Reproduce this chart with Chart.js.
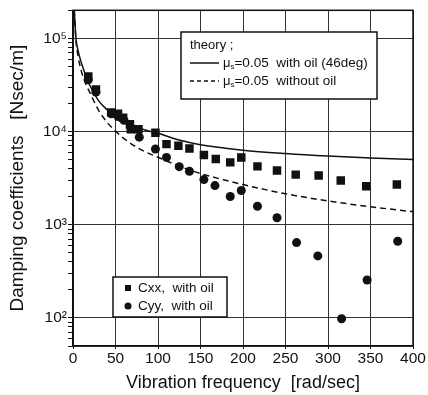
<!DOCTYPE html>
<html>
<head>
<meta charset="utf-8">
<script src="https://cdn.jsdelivr.net/npm/chart.js@4.4.1/dist/chart.umd.min.js"></script>
<style>
  html, body { margin: 0; padding: 0; background: #fff; }
  #wrap { width: 428px; height: 395px; }
</style>
</head>
<body>
<div id="wrap"><canvas id="c"></canvas></div>
<script>
const cxxFreq = [18, 27, 45, 53, 59, 67, 68, 77, 97, 110, 124, 137, 154, 168, 185, 198, 217, 240, 262, 289, 315, 345, 381];
const cxxVal  = [39000, 28300, 16000, 15500, 14100, 12000, 10600, 10600, 9700, 7330, 7040, 6590, 5600, 5070, 4670, 5280, 4230, 3810, 3450, 3370, 2980, 2590, 2700];

const cyyFreq = [18, 27, 45, 53, 60, 68, 78, 97, 110, 125, 137, 154, 167, 185, 198, 217, 240, 263, 288, 316, 346, 382];
const cyyVal  = [36000, 26500, 15500, 14500, 13200, 11000, 8700, 6490, 5280, 4200, 3750, 3050, 2630, 2010, 2330, 1580, 1190, 644, 463, 98, 255, 665];

// theory curves
const theoryFreq = [1.5, 3.5, 6, 10, 15, 20, 30, 40, 50, 60, 80, 100, 125, 150, 200, 250, 300, 350, 400];
const withOilVal = [200000, 100000, 74000, 54000, 40000, 31000, 21500, 17200, 14600, 12900, 10700, 9600, 8100, 7200, 6300, 5800, 5450, 5200, 5000];
const noOilVal   = [200000, 94000, 64000, 44000, 32500, 26000, 17000, 12600, 10100, 8400, 6400, 5300, 4250, 3550, 2700, 2150, 1800, 1560, 1380];

const xTicks = [0, 50, 100, 150, 200, 250, 300, 350, 400];
const yTickValues = [100, 1000, 10000, 100000];
const yTickLabels = ['10²', '10³', '10⁴', '10⁵'];

const FONT = '"Liberation Sans", Arial, sans-serif';
const INK = '#111';

const pts = (xs, ys) => xs.map((x, i) => ({ x: x, y: ys[i] }));

// every minor value between 50 and 200000 on the log axis
const yAll = [];
for (let d = 10; d <= 100000; d *= 10) {
  for (let m = 1; m <= 9; m++) {
    const v = m * d;
    if (v >= 50 && v <= 200000) yAll.push(v);
  }
}
yAll.push(200000);

// frame + in-plot legends
const decor = {
  id: 'decor',
  afterDraw(chart) {
    const { ctx, chartArea: a } = chart;
    ctx.save();
    ctx.strokeStyle = INK;
    ctx.lineWidth = 1.5;
    ctx.strokeRect(a.left, a.top, a.right - a.left, a.bottom - a.top);

    // theory legend
    ctx.fillStyle = '#fff';
    ctx.fillRect(181, 32, 196, 67);
    ctx.strokeRect(181, 32, 196, 67);
    ctx.fillStyle = INK;
    ctx.textBaseline = 'middle';
    ctx.font = '13px ' + FONT;
    ctx.fillText('theory ;', 190, 45);

    ctx.lineWidth = 1.5;
    ctx.setLineDash([]);
    ctx.beginPath(); ctx.moveTo(190, 63); ctx.lineTo(219, 63); ctx.stroke();
    ctx.setLineDash([4, 3]);
    ctx.beginPath(); ctx.moveTo(190, 81); ctx.lineTo(219, 81); ctx.stroke();
    ctx.setLineDash([]);

    const mu = (y, rest) => {
      let x = 223;
      ctx.font = '13px ' + FONT;
      ctx.fillText('μ', x, y);
      x += ctx.measureText('μ').width;
      ctx.font = '8px ' + FONT;
      ctx.fillText('s', x, y + 4);
      x += ctx.measureText('s').width;
      ctx.font = '13.5px ' + FONT;
      ctx.fillText(rest, x, y);
    };
    mu(63, '=0.05  with oil (46deg)');
    mu(81, '=0.05  without oil');

    // data legend
    ctx.fillStyle = '#fff';
    ctx.fillRect(113, 277, 114, 40);
    ctx.lineWidth = 1.5;
    ctx.strokeRect(113, 277, 114, 40);
    ctx.fillStyle = INK;
    ctx.fillRect(125, 285, 6, 6);
    ctx.beginPath(); ctx.arc(128, 306, 3.5, 0, Math.PI * 2); ctx.fill();
    ctx.font = '13.5px ' + FONT;
    ctx.fillText('Cxx,  with oil', 138, 288);
    ctx.fillText('Cyy,  with oil', 138, 306);
    ctx.restore();
  }
};

new Chart(document.getElementById('c'), {
  type: 'scatter',
  data: {
    datasets: [
      {
        label: 'with oil (46deg)',
        data: pts(theoryFreq, withOilVal),
        showLine: true, pointRadius: 0, borderColor: INK, borderWidth: 1.5,
        cubicInterpolationMode: 'monotone'
      },
      {
        label: 'without oil',
        data: pts(theoryFreq, noOilVal),
        showLine: true, pointRadius: 0, borderColor: INK, borderWidth: 1.5,
        borderDash: [6, 4], cubicInterpolationMode: 'monotone'
      },
      {
        label: 'Cyy, with oil',
        data: pts(cyyFreq, cyyVal),
        pointStyle: 'circle', pointRadius: 4.5,
        backgroundColor: INK, borderColor: INK, borderWidth: 0
      },
      {
        label: 'Cxx, with oil',
        data: pts(cxxFreq, cxxVal),
        pointStyle: 'rect', pointRadius: 6,
        backgroundColor: INK, borderColor: INK, borderWidth: 0
      }
    ]
  },
  options: {
    responsive: true,
    maintainAspectRatio: false,
    animation: false,
    layout: { padding: { left: 0, right: 15, top: 9, bottom: 0 } },
    plugins: { legend: { display: false }, tooltip: { enabled: false } },
    scales: {
      x: {
        type: 'linear', min: 0, max: 400,
        afterFit: s => { s.height = 49; },
        afterBuildTicks: s => { s.ticks = xTicks.map(v => ({ value: v })); },
        grid: { color: '#333', lineWidth: 1, tickLength: 3, tickColor: INK },
        border: { color: INK, width: 1.5 },
        ticks: { color: INK, padding: 0, font: { family: FONT, size: 15.5 } },
        title: {
          display: true, text: 'Vibration frequency  [rad/sec]', color: INK,
          font: { family: FONT, size: 18 }, padding: { top: 0, bottom: 1 }
        }
      },
      y: {
        type: 'logarithmic', min: 50, max: 200000,
        afterFit: s => { s.width = 73; },
        afterBuildTicks: s => { s.ticks = yAll.map(v => ({ value: v })); },
        grid: {
          color: c => yTickValues.includes(c.tick && c.tick.value) ? '#333' : 'rgba(0,0,0,0)',
          tickColor: INK, tickLength: 5, lineWidth: 1
        },
        border: { color: INK, width: 1.5 },
        ticks: {
          autoSkip: false, color: INK, padding: 1,
          font: { family: FONT, size: 15.5 },
          callback: v => {
            const i = yTickValues.indexOf(v);
            return i >= 0 ? yTickLabels[i] : '';
          }
        },
        title: {
          display: true, text: 'Damping coefficients   [Nsec/m]', color: INK,
          font: { family: FONT, size: 19 }, padding: { top: 6, bottom: 0 }
        }
      }
    }
  },
  plugins: [decor]
});
</script>
</body>
</html>
